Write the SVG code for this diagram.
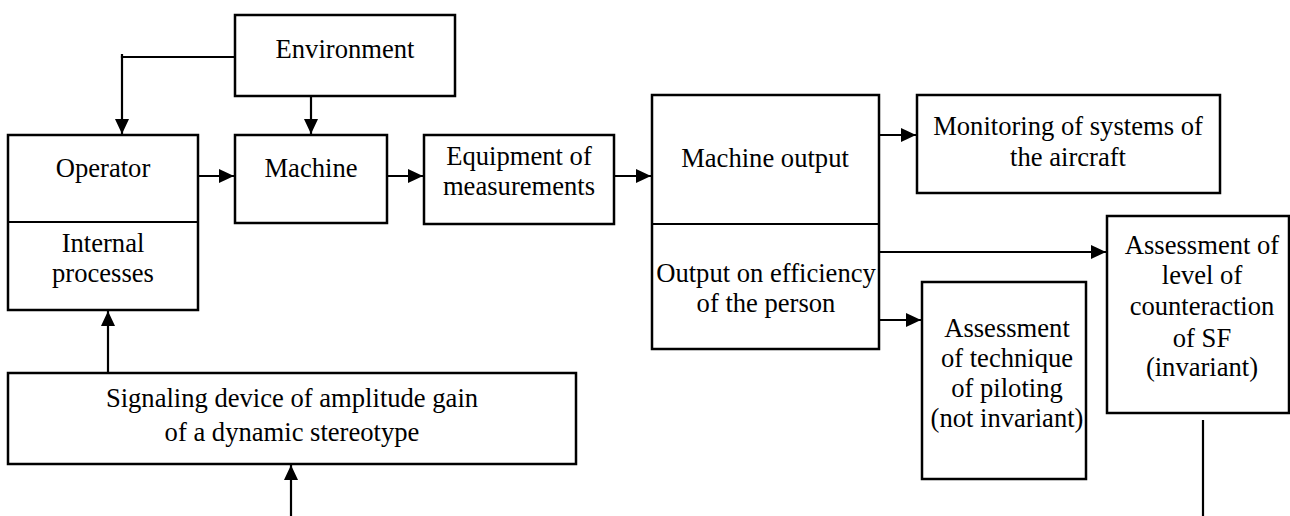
<svg xmlns="http://www.w3.org/2000/svg" width="1290" height="516" viewBox="0 0 1290 516">
<defs>
<style>
.box{fill:#fff;stroke:#000;stroke-width:2.5}
.ln{fill:none;stroke:#000;stroke-width:2.2}
.t{font-family:'Liberation Serif','Times New Roman',Times,'DejaVu Serif',serif;font-size:26.6px;fill:#000;text-anchor:middle}
</style>
<marker id="ah" markerUnits="userSpaceOnUse" markerWidth="16" markerHeight="16" refX="15" refY="7" orient="auto">
<path d="M0,0 L15,7 L0,14 z" fill="#000"/>
</marker>
</defs>
<rect width="1290" height="516" fill="#fff"/>
<g id="connectors">
<polyline class="ln" points="235,57 122,57 122,134" marker-end="url(#ah)"/>
<line class="ln" x1="122" y1="54" x2="122" y2="58"/>
<line class="ln" x1="311" y1="96" x2="311" y2="134" marker-end="url(#ah)"/>
<line class="ln" x1="198" y1="176" x2="234" y2="176" marker-end="url(#ah)"/>
<line class="ln" x1="387" y1="176" x2="423" y2="176" marker-end="url(#ah)"/>
<line class="ln" x1="614" y1="176" x2="651" y2="176" marker-end="url(#ah)"/>
<line class="ln" x1="879" y1="135" x2="916" y2="135" marker-end="url(#ah)"/>
<line class="ln" x1="879" y1="252" x2="1106" y2="252" marker-end="url(#ah)"/>
<line class="ln" x1="879" y1="320" x2="921" y2="320" marker-end="url(#ah)"/>
<line class="ln" x1="108" y1="373" x2="108" y2="311" marker-end="url(#ah)"/>
<line class="ln" x1="291" y1="516" x2="291" y2="465" marker-end="url(#ah)"/>
<line class="ln" x1="1203" y1="420" x2="1203" y2="516"/>
</g>
<g id="environment">
<rect class="box" x="235" y="15" width="220" height="81"/>
<text class="t" x="345" y="58">Environment</text>
</g>
<g id="operator">
<rect class="box" x="8" y="135" width="190" height="175"/>
<line class="ln" x1="8" y1="222" x2="198" y2="222"/>
<text class="t" x="103" y="177">Operator</text>
<text class="t" x="103" y="252">Internal</text>
<text class="t" x="103" y="282">processes</text>
</g>
<g id="machine">
<rect class="box" x="235" y="135" width="152" height="88"/>
<text class="t" x="311" y="177">Machine</text>
</g>
<g id="equipment">
<rect class="box" x="424" y="135" width="190" height="89"/>
<text class="t" x="519" y="165">Equipment of</text>
<text class="t" x="519" y="195">measurements</text>
</g>
<g id="machine-output">
<rect class="box" x="652" y="95" width="227" height="254"/>
<line class="ln" x1="652" y1="224" x2="879" y2="224"/>
<text class="t" x="765" y="167">Machine output</text>
<text class="t" x="766" y="282">Output on efficiency</text>
<text class="t" x="766" y="312">of the person</text>
</g>
<g id="monitoring">
<rect class="box" x="917" y="95" width="303" height="98"/>
<text class="t" x="1068" y="135">Monitoring of systems of</text>
<text class="t" x="1068" y="166">the aircraft</text>
</g>
<g id="assessment-technique">
<rect class="box" x="922" y="282" width="164" height="197"/>
<text class="t" x="1007" y="337">Assessment</text>
<text class="t" x="1007" y="367">of technique</text>
<text class="t" x="1007" y="397">of piloting</text>
<text class="t" x="1007" y="427">(not invariant)</text>
</g>
<g id="assessment-level">
<rect class="box" x="1107" y="216" width="182" height="197"/>
<text class="t" x="1202" y="254">Assessment of</text>
<text class="t" x="1202" y="284">level of</text>
<text class="t" x="1202" y="315">counteraction</text>
<text class="t" x="1202" y="347">of SF</text>
<text class="t" x="1202" y="376">(invariant)</text>
</g>
<g id="signaling">
<rect class="box" x="8" y="373" width="568" height="91"/>
<text class="t" x="292" y="407">Signaling device of amplitude gain</text>
<text class="t" x="292" y="441">of a dynamic stereotype</text>
</g>
</svg>
